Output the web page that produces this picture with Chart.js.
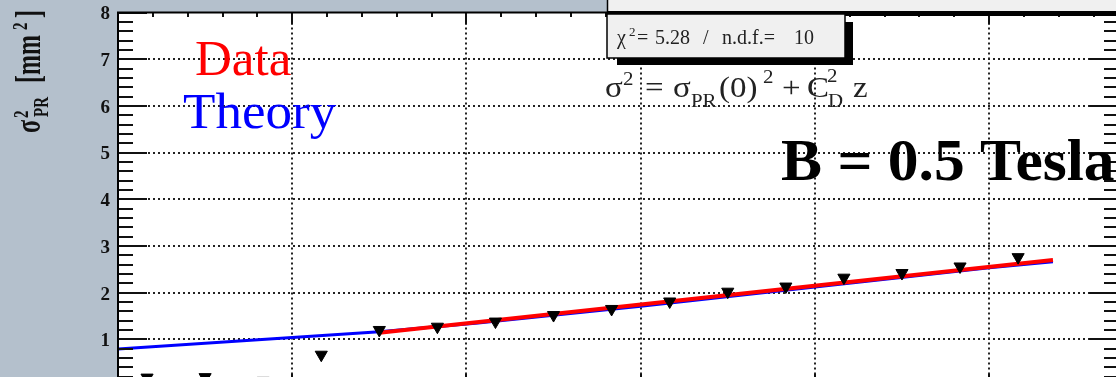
<!DOCTYPE html>
<html>
<head>
<meta charset="utf-8">
<script src="https://cdn.jsdelivr.net/npm/chart.js@4.4.0/dist/chart.umd.min.js"></script>
<style>
  html, body { margin: 0; padding: 0; overflow: hidden; background: #b4c0cc; }
  #sigma-chart { display: block; }
</style>
</head>
<body>
<canvas id="sigma-chart" width="1140" height="420"></canvas>
<script>
// drift distance z of each bin and the measured sigma^2 (mm^2)
const zBins = [5, 15, 25, 35, 45, 55, 65, 75, 85, 95, 105, 115, 125, 135, 145, 155];
const sigma2Data = [0.18, 0.19, 0.11, 0.67, 1.20, 1.27, 1.38, 1.52, 1.65, 1.81, 2.02, 2.13, 2.32, 2.42, 2.56, 2.76];

// linear fit  sigma^2 = sigma_PR(0)^2 + C_D^2 z
const fitZ = [45, 161];
const fitSigma2 = [1.14, 2.70];

// theory curve
const theoryZ = [0, 30, 45, 62, 90, 120, 150, 161];
const theorySigma2 = [0.79, 1.04, 1.16, 1.35, 1.71, 2.12, 2.53, 2.66];

// axes
const yTickLabels = ["1", "2", "3", "4", "5", "6", "7", "8"];
const yMin = 0, yMax = 8;
const zMin = 0, zMax = 172.2;
const zMajorStep = 30, zMinorStep = 6;

const serif = "'Liberation Serif', 'Times New Roman', serif";
const chartDOM = document.getElementById("sigma-chart");

function toPoints(xs, ys) {
    return xs.map((x, i) => ({ x: x, y: ys[i] }));
}

// draw a row of text pieces (used for sub/superscripts)
function drawParts(ctx, parts, color, sx, sy) {
    parts.forEach(p => {
        ctx.save();
        ctx.font = (p.bold ? "bold " : "") + p.size + "px " + serif;
        ctx.fillStyle = color;
        ctx.translate(p.x, p.y);
        ctx.scale(sx || 1, sy || 1);
        ctx.fillText(p.t, 0, 0);
        ctx.restore();
    });
}

//marco, ticks y rejilla al estilo ROOT
const rootFrame = {
    id: "rootFrame",
    beforeDraw(chart) {
        const { ctx, chartArea: a, scales } = chart;
        ctx.save();
        ctx.fillStyle = "#b4c0cc";
        ctx.fillRect(0, 0, chart.width, chart.height);
        ctx.fillStyle = "#ffffff";
        ctx.fillRect(a.left, a.top, a.right - a.left, a.bottom - a.top);

        // dotted grid on major ticks
        ctx.strokeStyle = "#222";
        ctx.lineWidth = 2;
        ctx.setLineDash([2, 3]);
        ctx.beginPath();
        for (let z = zMin + zMajorStep; z < zMax; z += zMajorStep) {
            const px = Math.round(scales.x.getPixelForValue(z));
            ctx.moveTo(px, a.top);
            ctx.lineTo(px, a.bottom);
        }
        for (let v = yMin + 1; v < yMax; v++) {
            const py = Math.round(scales.y.getPixelForValue(v));
            ctx.moveTo(a.left, py);
            ctx.lineTo(a.right, py);
        }
        ctx.stroke();
        ctx.restore();
    },
    afterDatasetsDraw(chart) {
        const { ctx, chartArea: a, scales } = chart;
        ctx.save();
        ctx.strokeStyle = "#111";
        ctx.lineWidth = 2;

        // tick marks inside the frame
        ctx.beginPath();
        for (let i = 0; i <= (yMax - yMin) * 5; i++) {
            const v = yMin + i * 0.2;
            const py = Math.round(scales.y.getPixelForValue(v));
            const major = i % 5 === 0;
            ctx.moveTo(a.left, py);
            ctx.lineTo(a.left + (major ? 29 : 15), py);
            ctx.moveTo(a.right, py);
            ctx.lineTo(a.right - (major ? 29 : 14), py);
        }
        for (let z = zMin; z <= zMax; z += zMinorStep) {
            const px = Math.round(scales.x.getPixelForValue(z));
            const major = z % zMajorStep === 0;
            ctx.moveTo(px, a.top);
            ctx.lineTo(px, a.top + (major ? 12 : 4.5));
            ctx.moveTo(px, a.bottom);
            ctx.lineTo(px, a.bottom - (major ? 12 : 4.5));
        }
        ctx.stroke();

        ctx.strokeStyle = "#000";
        ctx.strokeRect(a.left, a.top, a.right - a.left, a.bottom - a.top);

        // y tick labels
        ctx.font = "bold 19px " + serif;
        ctx.fillStyle = "#111";
        ctx.textAlign = "right";
        ctx.textBaseline = "middle";
        yTickLabels.forEach(lbl => {
            ctx.fillText(lbl, a.left - 8, scales.y.getPixelForValue(Number(lbl)) + 2);
        });

        // y axis title, rotated
        ctx.textAlign = "left";
        ctx.textBaseline = "alphabetic";
        ctx.save();
        ctx.translate(40, 133);
        ctx.rotate(-Math.PI / 2);
        drawParts(ctx, [
            { t: "σ", x: 0, y: 0, size: 24, bold: true },
            { t: "2", x: 15, y: -12, size: 15, bold: true },
            { t: "PR", x: 16, y: 8, size: 15, bold: true },
            { t: "[mm", x: 50, y: 0, size: 24, bold: true },
            { t: "2", x: 103, y: -13, size: 15, bold: true },
            { t: "]", x: 115, y: 0, size: 24, bold: true }
        ], "#111", 1, 1.45);
        ctx.restore();

        // legend-like labels
        ctx.font = "51px " + serif;
        ctx.fillStyle = "#ff0000";
        ctx.fillText("Data", 195, 75);
        ctx.fillStyle = "#0000ff";
        drawParts(ctx, [{ t: "Theory", x: 183, y: 128, size: 51 }], "#0000ff", 1.04, 1);

        // formula
        drawParts(ctx, [
            { t: "σ", x: 605, y: 97, size: 30 },
            { t: "2", x: 623, y: 85, size: 19 },
            { t: "=", x: 645, y: 97, size: 30 },
            { t: "σ", x: 673, y: 97, size: 30 },
            { t: "PR", x: 691, y: 107, size: 19 },
            { t: "(0)", x: 719, y: 97, size: 30 },
            { t: "2", x: 763, y: 83, size: 19 },
            { t: "+", x: 782, y: 97, size: 30 },
            { t: "C", x: 807, y: 97, size: 30 },
            { t: "2", x: 827, y: 82, size: 19 },
            { t: "D", x: 828, y: 107, size: 19 },
            { t: "z", x: 853, y: 97, size: 30 }
        ], "#222", 1.1, 1);

        drawParts(ctx, [{ t: "B = 0.5 Tesla", x: 781, y: 180, size: 60, bold: true }], "#000", 1.025, 1);

        // stat boxes
        ctx.lineWidth = 1.5;
        ctx.fillStyle = "#000";
        ctx.fillRect(607, 11, 540, 5);
        ctx.fillStyle = "#f0f0f0";
        ctx.fillRect(607, -5, 540, 16);
        ctx.beginPath();
        ctx.moveTo(607.5, 0);
        ctx.lineTo(607.5, 12);
        ctx.stroke();

        ctx.fillStyle = "#000";
        ctx.fillRect(617, 22, 236, 43);
        ctx.fillStyle = "#f0f0f0";
        ctx.fillRect(607, 14, 238, 44);
        ctx.strokeRect(607, 14, 238, 44);

        drawParts(ctx, [
            { t: "χ", x: 617, y: 44, size: 20 },
            { t: "2", x: 629, y: 36, size: 13 },
            { t: "=", x: 637, y: 44, size: 20 },
            { t: "5.28", x: 655, y: 44, size: 20 },
            { t: "/", x: 703, y: 44, size: 20 },
            { t: "n.d.f.=", x: 722, y: 44, size: 20 },
            { t: "10", x: 794, y: 44, size: 20 }
        ], "#222", 1, 1);

        ctx.restore();
    }
};

const config = {
    type: "scatter",
    data: {
        datasets: [{
            label: "Data",
            data: toPoints(zBins, sigma2Data),
            pointStyle: "triangle",
            rotation: 180,
            pointRadius: 7,
            backgroundColor: "#000",
            borderColor: "#000",
            borderWidth: 1,
            showLine: false
        }, {
            label: "Fit",
            data: toPoints(fitZ, fitSigma2),
            showLine: true,
            borderColor: "#ff0000",
            borderWidth: 4,
            pointRadius: 0,
            fill: false
        }, {
            label: "Theory",
            data: toPoints(theoryZ, theorySigma2),
            showLine: true,
            borderColor: "#0000ff",
            borderWidth: 3,
            pointRadius: 0,
            tension: 0,
            fill: false
        }]
    },
    options: {
        responsive: false,
        devicePixelRatio: 1,
        animation: false,
        events: [],
        layout: { padding: { left: 118, top: 12.5, right: 22, bottom: 34 } },
        scales: {
            x: { type: "linear", min: zMin, max: zMax, display: false },
            y: { type: "linear", min: yMin, max: yMax, display: false }
        },
        plugins: {
            legend: { display: false },
            tooltip: { enabled: false }
        }
    },
    plugins: [rootFrame]
};

new Chart(chartDOM, config);
</script>
</body>
</html>
